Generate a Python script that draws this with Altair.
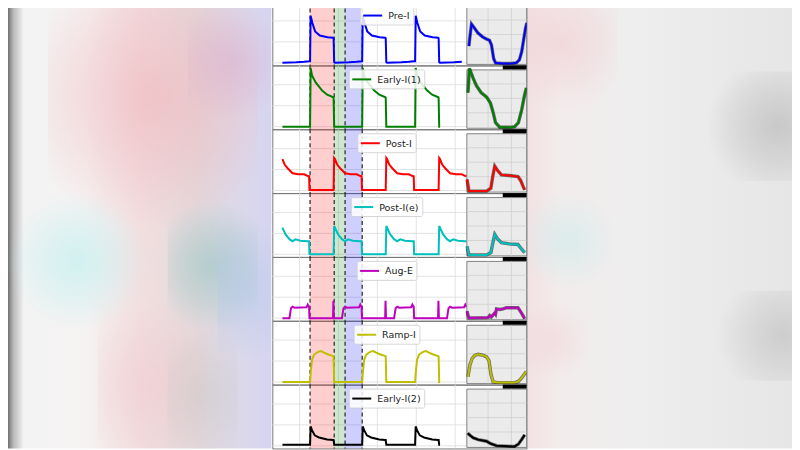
import altair as alt
import pandas as pd

# ---------------- data ----------------
names = ["Pre-I", "Early-I(1)", "Post-I", "Post-I(e)", "Aug-E", "Ramp-I", "Early-I(2)"]
colors = ["#0000ff", "#008000", "#ff0000", "#00bfbf", "#bf00bf", "#bfbf00", "#000000"]

# cycle onsets (start of inspiration) on the time axis, and visible data range
onsets = [-1.08, 0.27, 1.61, 2.97]
t_first = -0.44
t_last = 4.30

# phase shading (I, post-I, E2) and dashed boundaries
phase_name = ["I", "post-I", "E2"]
phase_start = [0.27, 0.89, 1.17]
phase_end = [0.89, 1.17, 1.61]
boundaries = [0.27, 0.89, 1.17, 1.61]

# one cycle of each trace: time from onset (tau) and activity (val)
pre_tau = [0, 0.015, 0.06, 0.13, 0.25, 0.45, 0.59, 0.605, 0.62, 0.64, 1.0, 1.2, 1.33]
pre_val = [0.03, 0.90, 0.76, 0.60, 0.52, 0.49, 0.48, 0.47, 0.01, 0.0, 0.01, 0.02, 0.03]

e1_tau = [0, 0.015, 0.05, 0.14, 0.31, 0.44, 0.6, 0.605, 0.62, 0.64, 1.33]
e1_val = [0.0, 1.12, 0.98, 0.85, 0.69, 0.61, 0.56, 0.55, 0.0, 0.0, 0.0]

post_tau = [0, 0.605, 0.62, 0.64, 0.70, 0.78, 0.90, 1.05, 1.2, 1.28, 1.325, 1.335]
post_val = [0.01, 0.01, 0.62, 0.60, 0.49, 0.42, 0.33, 0.31, 0.31, 0.28, 0.27, 0.01]

poste_tau = [0, 0.605, 0.62, 0.64, 0.72, 0.82, 0.90, 0.98, 1.1, 1.28, 1.325, 1.335]
poste_val = [0.0, 0.0, 0.54, 0.51, 0.38, 0.29, 0.25, 0.285, 0.26, 0.25, 0.25, 0.0]

auge_tau = [0, 0.59, 0.60, 0.612, 0.64, 0.82, 0.86, 0.90, 0.95, 1.26, 1.29, 1.31, 1.325, 1.335]
auge_val = [0.0, 0.0, 0.33, 0.0, 0.0, 0.0, 0.19, 0.22, 0.20, 0.21, 0.26, 0.23, 0.22, 0.0]

ramp_tau = [0, 0.02, 0.05, 0.10, 0.15, 0.22, 0.28, 0.36, 0.45, 0.58, 0.605, 0.62, 0.64, 1.33]
ramp_val = [0.0, 0.20, 0.42, 0.52, 0.55, 0.58, 0.59, 0.56, 0.53, 0.50, 0.49, 0.0, 0.0, 0.0]

e2_tau = [0, 0.015, 0.05, 0.12, 0.23, 0.44, 0.6, 0.605, 0.62, 0.64, 1.33]
e2_val = [0.02, 0.37, 0.30, 0.20, 0.16, 0.12, 0.11, 0.11, 0.02, 0.02, 0.02]

taus = [pre_tau, e1_tau, post_tau, poste_tau, auge_tau, ramp_tau, e2_tau]
vals = [pre_val, e1_val, post_val, poste_val, auge_val, ramp_val, e2_val]

# inset (cycle-aligned overlay): phase p and activity
in_pre_p = [0.09, 0.11, 0.145, 0.20, 0.28, 0.38, 0.47, 0.53, 0.573, 0.62, 0.66, 0.80, 1.0, 1.107, 1.17, 1.22, 1.26, 1.30, 1.33]
in_pre_v = [0.30, 0.45, 0.68, 0.62, 0.53, 0.46, 0.42, 0.40, 0.32, 0.08, 0.01, 0.0, 0.0, 0.01, 0.06, 0.20, 0.40, 0.60, 0.70]

in_e1_p = [0.07, 0.10, 0.18, 0.25, 0.35, 0.47, 0.55, 0.607, 0.66, 0.75, 1.0, 1.07, 1.15, 1.22, 1.28, 1.32]
in_e1_v = [0.60, 1.02, 0.85, 0.72, 0.60, 0.52, 0.42, 0.26, 0.08, 0.0, 0.0, 0.01, 0.08, 0.30, 0.55, 0.68]

in_post_p = [0.05, 0.07, 0.09, 0.30, 0.47, 0.56, 0.60, 0.643, 0.70, 0.786, 0.95, 1.141, 1.20, 1.25, 1.284]
in_post_v = [0.20, 0.10, 0.0, 0.0, 0.0, 0.05, 0.25, 0.43, 0.36, 0.28, 0.27, 0.25, 0.18, 0.08, 0.02]

in_poste_p = [0.05, 0.07, 0.09, 0.47, 0.56, 0.60, 0.643, 0.70, 0.786, 0.95, 1.141, 1.20, 1.25, 1.284]
in_poste_v = [0.15, 0.07, 0.0, 0.0, 0.04, 0.20, 0.355, 0.28, 0.21, 0.19, 0.18, 0.12, 0.07, 0.04]

in_auge_p = [0.05, 0.07, 0.09, 0.50, 0.536, 0.57, 0.643, 0.66, 0.68, 0.75, 0.82, 0.893, 1.0, 1.141, 1.20, 1.25, 1.284]
in_auge_v = [0.13, 0.06, 0.015, 0.02, 0.055, 0.03, 0.10, 0.08, 0.17, 0.16, 0.17, 0.19, 0.19, 0.19, 0.12, 0.05, 0.0]

in_ramp_p = [0.07, 0.11, 0.16, 0.216, 0.286, 0.40, 0.466, 0.52, 0.56, 0.607, 0.70, 1.0, 1.07, 1.15, 1.22, 1.28, 1.32]
in_ramp_v = [0.10, 0.30, 0.42, 0.47, 0.49, 0.47, 0.445, 0.38, 0.15, 0.013, 0.0, 0.0, 0.0, 0.02, 0.08, 0.15, 0.19]

in_e2_p = [0.066, 0.10, 0.18, 0.286, 0.466, 0.55, 0.68, 1.0, 1.07, 1.15, 1.22, 1.284]
in_e2_v = [0.23, 0.20, 0.15, 0.117, 0.09, 0.05, 0.013, 0.0, 0.0, 0.04, 0.12, 0.20]

in_ps = [in_pre_p, in_e1_p, in_post_p, in_poste_p, in_auge_p, in_ramp_p, in_e2_p]
in_vs = [in_pre_v, in_e1_v, in_post_v, in_poste_v, in_auge_v, in_ramp_v, in_e2_v]

main_xticks = [0, 1, 2, 3, 4]
main_yticks = [0, 0.4, 0.8]
inset_xticks = [0.5, 1.0]
inset_yticks = [0.25, 0.5, 0.75]

# ---------------- layout / style constants ----------------
MAIN_W, INSET_W, ROW_H = 195, 60, 64
ROW_W = MAIN_W + INSET_W
LEFT_W, RIGHT_W = 264, 265

CW = {"P": 0.603, "r": 0.411, "e": 0.615, "-": 0.361, "I": 0.295, "E": 0.632, "a": 0.613,
      "l": 0.278, "y": 0.592, "(": 0.390, ")": 0.390, "1": 0.636, "2": 0.636, "o": 0.612,
      "s": 0.521, "t": 0.392, "A": 0.684, "u": 0.634, "g": 0.635, "R": 0.695, "m": 0.974, "p": 0.635}
FS = 9.5


def cycle_df(tau, val):
    rows = []
    for c in onsets:
        for a, b in zip(tau, val):
            t = c + a
            if t_first - 1e-9 <= t <= t_last:
                rows.append({"t": t, "v": b})
    return pd.DataFrame(rows)


def mx(field):
    return alt.X(field, type="quantitative",
                 scale=alt.Scale(domain=[-0.7, 4.3], range=[0, MAIN_W], nice=False, zero=False), axis=None)


def my(field):
    return alt.Y(field, type="quantitative",
                 scale=alt.Scale(domain=[-0.05, 1.17], nice=False, zero=False), axis=None)


def ix(field):
    return alt.X(field, type="quantitative",
                 scale=alt.Scale(domain=[0.045, 1.327], range=[MAIN_W, ROW_W], nice=False, zero=False),
                 axis=None)


def iy(field):
    return alt.Y(field, type="quantitative",
                 scale=alt.Scale(domain=[-0.035, 1.07], nice=False, zero=False), axis=None)


bands_df = pd.DataFrame({"s": phase_start, "e": phase_end, "p": phase_name})
bound_df = pd.DataFrame({"b": boundaries})
mxt_df = pd.DataFrame({"g": main_xticks})
myt_df = pd.DataFrame({"g": main_yticks})
ixt_df = pd.DataFrame({"g": inset_xticks})
iyt_df = pd.DataFrame({"g": inset_yticks})
one = alt.Data(values=[{"k": 1}])


def row_panel(i):
    df = cycle_df(taus[i], vals[i])
    vgrid = alt.Chart(mxt_df).mark_rule(color="#dcdcdc", strokeWidth=0.8).encode(x=mx("g"))
    hgrid = alt.Chart(myt_df).mark_rule(color="#dcdcdc", strokeWidth=0.8).encode(
        y=my("g"), x=alt.value(0), x2=alt.value(MAIN_W))
    bands = alt.Chart(bands_df).mark_rect(opacity=0.19).encode(
        x=mx("s"), x2="e",
        color=alt.Color("p:N", scale=alt.Scale(domain=phase_name,
                                               range=["#ff0000", "#008000", "#0000ff"]), legend=None))
    rules = alt.Chart(bound_df).mark_rule(color="#111111", strokeDash=[4, 3], strokeWidth=1.1).encode(x=mx("b"))
    line = alt.Chart(df).mark_line(color=colors[i], strokeWidth=2, clip=True).encode(
        x=mx("t"), y=my("v"))
    tw = sum(CW.get(ch, 0.6) for ch in names[i]) * FS
    w = 3 + 19 + 6 + tw + 4
    x0 = 115 - w / 2
    box = alt.Chart(one).mark_rect(fill="white", fillOpacity=0.85, stroke="#cccccc",
                                   strokeWidth=0.8, cornerRadius=2).encode(
        x=alt.value(x0), x2=alt.value(x0 + w), y=alt.value(4.5), y2=alt.value(23.5))
    lg_line = alt.Chart(one).mark_rule(color=colors[i], strokeWidth=2).encode(
        x=alt.value(x0 + 3), x2=alt.value(x0 + 22), y=alt.value(14))
    lg_text = alt.Chart(one).mark_text(text=names[i], align="left", baseline="middle",
                                       font="DejaVu Sans", fontSize=FS, color="#222222").encode(
        x=alt.value(x0 + 28), y=alt.value(14.5))

    # inset (right part of the row)
    idf = pd.DataFrame({"p": in_ps[i], "v": in_vs[i]})
    ibg = alt.Chart(one).mark_rect(fill="#ebebeb", stroke="#666666", strokeWidth=0.8).encode(
        x=alt.value(MAIN_W), x2=alt.value(ROW_W), y=alt.value(4.5), y2=alt.value(63))
    ivg = alt.Chart(ixt_df).mark_rule(color="#cfcfcf", strokeWidth=0.8).encode(
        x=ix("g"), y=alt.value(4.5), y2=alt.value(63))
    ihg = alt.Chart(iyt_df).mark_rule(color="#cfcfcf", strokeWidth=0.8).encode(
        y=iy("g"), x=alt.value(MAIN_W), x2=alt.value(ROW_W))
    ioutline = alt.Chart(idf).mark_line(color="#000000", strokeWidth=3.4, opacity=0.55, clip=True).encode(
        x=ix("p"), y=iy("v"))
    iline = alt.Chart(idf).mark_line(color=colors[i], strokeWidth=2, clip=True).encode(
        x=ix("p"), y=iy("v"))
    bar = alt.Chart(one).mark_rect(fill="#000000").encode(
        x=alt.value(MAIN_W + 36), x2=alt.value(ROW_W), y=alt.value(0), y2=alt.value(4))

    return alt.layer(vgrid, hgrid, bands, rules, line, box, lg_line, lg_text,
                     ibg, ivg, ihg, ioutline, iline, bar).resolve_scale(
        x="independent", y="independent").properties(
        width=ROW_W, height=ROW_H, view=alt.ViewBackground(stroke="#777777", strokeWidth=1))


# ---- blurred video-frame background on both sides (decoration) ----
left_grad = alt.LinearGradient(gradient="linear", x1=0, x2=1, y1=0, y2=0, stops=[
    alt.GradientStop(color="#707070", offset=0),
    alt.GradientStop(color="#b8b8b8", offset=0.02),
    alt.GradientStop(color="#f3f3f3", offset=0.06),
    alt.GradientStop(color="#f6f2f2", offset=0.3),
    alt.GradientStop(color="#f2dfe0", offset=0.5),
    alt.GradientStop(color="#e2d8db", offset=0.72),
    alt.GradientStop(color="#dbd8ec", offset=0.9),
    alt.GradientStop(color="#d6d4f0", offset=1)])
right_grad = alt.LinearGradient(gradient="linear", x1=0, x2=1, y1=0, y2=0, stops=[
    alt.GradientStop(color="#f2e2e4", offset=0),
    alt.GradientStop(color="#f3ecec", offset=0.12),
    alt.GradientStop(color="#eeeeee", offset=0.4),
    alt.GradientStop(color="#e6e6e6", offset=1)])

# (x0, x1, y0, y1, r, g, b, alpha) in each side panel's own pixels
left_blobs = [
    (40, 250, -40, 230, 240, 185, 190, 0.7),
    (180, 264, 0, 120, 215, 170, 205, 0.45),
    (0, 140, 190, 330, 200, 240, 240, 0.8),
    (160, 250, 200, 330, 160, 200, 198, 0.7),
    (210, 264, 220, 360, 180, 200, 232, 0.55),
    (90, 200, 300, 470, 240, 200, 205, 0.55),
    (160, 230, 330, 460, 200, 200, 200, 0.45),
]
right_blobs = [
    (-20, 90, -30, 110, 240, 205, 210, 0.6),
    (180, 320, 70, 180, 175, 175, 175, 0.55),
    (190, 320, 290, 380, 180, 180, 180, 0.5),
    (-10, 90, 190, 290, 205, 235, 235, 0.6),
    (-10, 60, 300, 380, 240, 210, 215, 0.5),
]


def blob_layer(b):
    x0, x1, y0, y1, r, g, bl, a = b
    grad = alt.RadialGradient(gradient="radial", x1=0.5, y1=0.5, r1=0, x2=0.5, y2=0.5, r2=0.5, stops=[
        alt.GradientStop(color=f"rgba({r},{g},{bl},{a})", offset=0),
        alt.GradientStop(color=f"rgba({r},{g},{bl},{a * 0.5})", offset=0.55),
        alt.GradientStop(color=f"rgba({r},{g},{bl},0)", offset=1)])
    return alt.Chart(one).mark_rect(color=grad, clip=True).encode(
        x=alt.value(x0), x2=alt.value(x1), y=alt.value(y0), y2=alt.value(y1))


def side(width, grad, blobs):
    base = alt.Chart(one).mark_rect(color=grad).encode(
        x=alt.value(0), x2=alt.value(width), y=alt.value(0), y2=alt.value(ROW_H * 7))
    return alt.layer(base, *[blob_layer(b) for b in blobs]).properties(
        width=width, height=ROW_H * 7, view=alt.ViewBackground(strokeWidth=0))


column = alt.vconcat(*[row_panel(i) for i in range(7)], spacing=0, bounds="flush")

chart = alt.hconcat(side(LEFT_W, left_grad, left_blobs), column,
                    side(RIGHT_W, right_grad, right_blobs),
                    spacing=0).properties(
    padding={"top": -9, "left": 0, "right": 0, "bottom": 0}, background="white")

chart.save("out.html", embed_options={"renderer": "svg", "actions": False})
